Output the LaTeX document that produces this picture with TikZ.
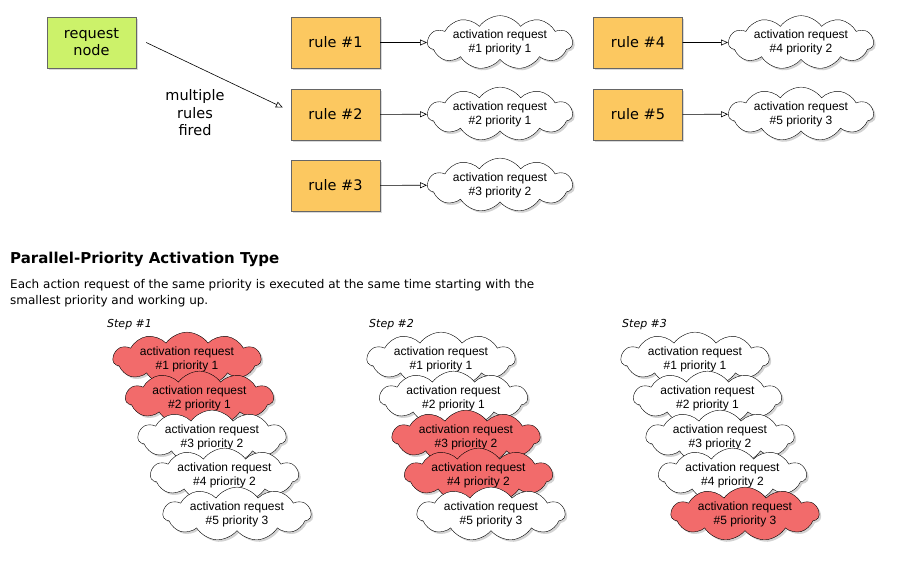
\documentclass[tikz,border=0pt]{standalone}
\usepackage{fontspec}
\setmainfont{DejaVu Sans}
\newfontfamily\cloudfont{Liberation Sans}
\usetikzlibrary{shapes.symbols,shadows,arrows.meta}
\definecolor{rulefill}{HTML}{FCC860}
\definecolor{reqfill}{HTML}{CCF26A}
\definecolor{hotfill}{HTML}{F26B6B}
\tikzset{
  rulebox/.style={draw=gray!80!black, fill=rulefill, minimum width=89pt, minimum height=51pt,
    font=\fontsize{14.5}{17}\selectfont, align=center,
    drop shadow={shadow xshift=1.5pt, shadow yshift=-1.5pt, opacity=0.3}},
  actcloud/.style={cloud, cloud puffs=11, cloud puff arc=110, cloud ignores aspect, draw, thin, fill=white,
    minimum width=145pt, minimum height=46pt, inner sep=0pt, align=center,
    font=\cloudfont\fontsize{12}{14}\selectfont,
    drop shadow={shadow xshift=2pt, shadow yshift=-2pt, opacity=0.35}},
  stackcloud/.style={actcloud, minimum width=148pt, minimum height=42pt},
  hot/.style={fill=hotfill},
  conn/.style={-{Triangle[open, length=7pt, width=6pt]}, semithick}
}
\begin{document}
\begin{tikzpicture}[x=1pt,y=-1pt]
  \useasboundingbox (0,0) rectangle (900,565);
  % rules being fired
  \node [rulebox, fill=reqfill] (req) at (91.5,42.5) {request\\node};
  \node [rulebox] (rule1) at (335.5,42.5) {rule \#1};
  \node [rulebox] (rule2) at (335.5,114.5) {rule \#2};
  \node [rulebox] (rule3) at (335.5,185.5) {rule \#3};
  \node [rulebox] (rule4) at (638,42.5) {rule \#4};
  \node [rulebox] (rule5) at (638,114.5) {rule \#5};
  \node [align=center, font=\fontsize{14.5}{17.5}\selectfont] (fired) at (195,113) {multiple\\rules\\fired};
  \draw [conn] ([xshift=10pt]req.east) -- ([xshift=-8pt,yshift=7pt]rule2.west);
  \node [actcloud] (a1) at (500,42.5) {activation request\\\#1 priority 1};
  \node [actcloud] (a2) at (500,114) {activation request\\\#2 priority 1};
  \node [actcloud] (a3) at (500,185) {activation request\\\#3 priority 2};
  \node [actcloud] (a4) at (801,42.5) {activation request\\\#4 priority 2};
  \node [actcloud] (a5) at (801,114) {activation request\\\#5 priority 3};
  \draw [conn] (rule1) -- (a1);
  \draw [conn] (rule2) -- (a2);
  \draw [conn] (rule3) -- (a3);
  \draw [conn] (rule4) -- (a4);
  \draw [conn] (rule5) -- (a5);
  % the activation type
  \node [anchor=base west, inner sep=0pt, font=\bfseries\fontsize{15}{18}\selectfont] (title) at (10,263) {Parallel-Priority Activation Type};
  \node [anchor=base west, align=left, inner sep=0pt, font=\fontsize{12}{16}\selectfont] (text) at (10,304)
    {Each action request of the same priority is executed at the same time starting with the\\smallest priority and working up.};
  \node [anchor=base west, inner sep=0pt, font=\itshape\fontsize{11}{13}\selectfont] (step1) at (107,327) {Step \#1};
  \node [anchor=base west, inner sep=0pt, font=\itshape\fontsize{11}{13}\selectfont] (step2) at (369,327) {Step \#2};
  \node [anchor=base west, inner sep=0pt, font=\itshape\fontsize{11}{13}\selectfont] (step3) at (622,327) {Step \#3};
  % step 1
  \node [stackcloud, hot] (p11) at (187,359) {activation request\\\#1 priority 1};
  \node [stackcloud, hot] (p12) at (199.5,398) {activation request\\\#2 priority 1};
  \node [stackcloud] (p13) at (212,437) {activation request\\\#3 priority 2};
  \node [stackcloud] (p14) at (224.5,475) {activation request\\\#4 priority 2};
  \node [stackcloud] (p15) at (237,514) {activation request\\\#5 priority 3};
  % step 2
  \node [stackcloud] (p21) at (441,359) {activation request\\\#1 priority 1};
  \node [stackcloud] (p22) at (453.5,398) {activation request\\\#2 priority 1};
  \node [stackcloud, hot] (p23) at (466,437) {activation request\\\#3 priority 2};
  \node [stackcloud, hot] (p24) at (478.5,475) {activation request\\\#4 priority 2};
  \node [stackcloud] (p25) at (491,514) {activation request\\\#5 priority 3};
  % step 3
  \node [stackcloud] (p31) at (695,359) {activation request\\\#1 priority 1};
  \node [stackcloud] (p32) at (707.5,398) {activation request\\\#2 priority 1};
  \node [stackcloud] (p33) at (720,437) {activation request\\\#3 priority 2};
  \node [stackcloud] (p34) at (732.5,475) {activation request\\\#4 priority 2};
  \node [stackcloud, hot] (p35) at (745,514) {activation request\\\#5 priority 3};
\end{tikzpicture}
\end{document}
